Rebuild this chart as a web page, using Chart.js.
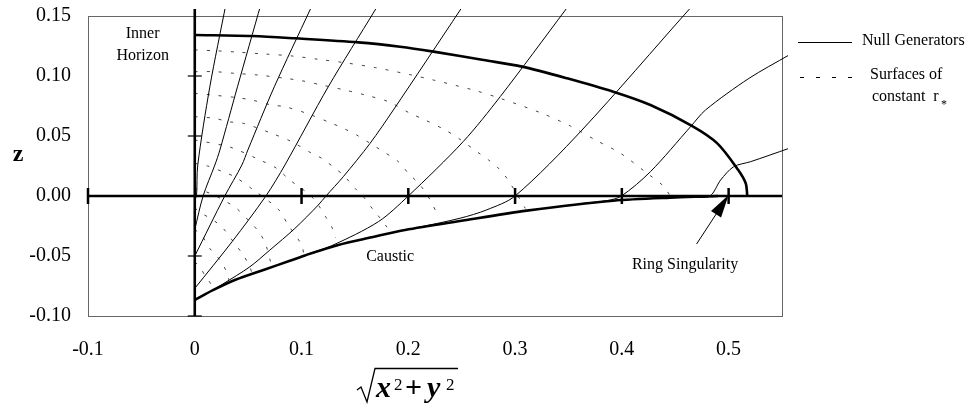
<!DOCTYPE html>
<html>
<head>
<meta charset="utf-8">
<script src="https://cdn.jsdelivr.net/npm/chart.js@4.4.1/dist/chart.umd.min.js"></script>
<style>
  html, body { margin: 0; padding: 0; background: #fff; }
</style>
</head>
<body>
<canvas id="myChart" width="969" height="404"></canvas>
<script>
// ticks on the two frame axes
const xTicks = [-0.1, 0, 0.1, 0.2, 0.3, 0.4, 0.5];
const xTickLabels = ['-0.1', '0', '0.1', '0.2', '0.3', '0.4', '0.5'];
const zTicks = [-0.1, -0.05, 0, 0.05, 0.1, 0.15];
const zTickLabels = ['-0.10', '-0.05', '0.00', '0.05', '0.10', '0.15'];

// tick marks on the axes through the origin
const xAxisMarks = [-0.1, 0.1, 0.2, 0.3, 0.4, 0.5];
const zAxisMarks = [-0.1, -0.05, 0.05, 0.1];

// thick curves, [x, z]
const innerHorizon = [[0, 0.1342], [0.0544, 0.1333], [0.0938, 0.1314], [0.1532, 0.128], [0.1923, 0.1244],
  [0.2236, 0.1203], [0.2705, 0.1133], [0.3065, 0.1078], [0.3487, 0.0981], [0.392, 0.0869],
  [0.4268, 0.0758], [0.466, 0.0583], [0.4894, 0.0439], [0.509, 0.0217], [0.516, 0.0106], [0.5175, 0]];
const caustic = [[0, -0.0867], [0.017, -0.0785], [0.0375, -0.07], [0.0657, -0.0612], [0.0891, -0.054],
  [0.1032, -0.0495], [0.1344, -0.0408], [0.1658, -0.0344], [0.197, -0.0283], [0.2486, -0.0208],
  [0.311, -0.0122], [0.392, -0.0039], [0.45, -0.0012], [0.49, 0]];

// null generators, [x, z]
const genA = [[0, -0.003], [0.0016, 0], [0.0028, 0.0258], [0.0141, 0.091], [0.0292, 0.16]];
const genB = [[0, -0.028], [0.0078, 0], [0.0188, 0.0258], [0.0235, 0.0383], [0.04, 0.091], [0.062, 0.16]];
const genC = [[0, -0.05], [0.0281, 0], [0.0441, 0.0258], [0.0497, 0.0383], [0.0745, 0.091], [0.1079, 0.155], [0.1105, 0.16]];
const genD = [[0, -0.077], [0.035, -0.038], [0.0666, 0], [0.0844, 0.0258], [0.125, 0.091], [0.1689, 0.155], [0.172, 0.16]];
const genE = [[0.01, -0.0822], [0.026, -0.0735], [0.0516, -0.059], [0.0704, -0.045], [0.0938, -0.027],
  [0.1157, -0.0075], [0.1229, 0], [0.1391, 0.0161], [0.1642, 0.0439], [0.186, 0.0717], [0.2486, 0.155], [0.252, 0.16]];
const genF = [[0.105, -0.0485], [0.128, -0.0415], [0.172, -0.0214], [0.2, 0], [0.2514, 0.0453],
  [0.2861, 0.0828], [0.3471, 0.155], [0.351, 0.16]];
const genG = [[0.205, -0.027], [0.2486, -0.0185], [0.2736, -0.0115], [0.3, 0], [0.3627, 0.055], [0.4625, 0.155], [0.468, 0.16]];
const genH = [[0.36, -0.0065], [0.386, -0.0039], [0.3996, 0], [0.4268, 0.0203], [0.4644, 0.0578],
  [0.4784, 0.0717], [0.519, 0.098], [0.5566, 0.1175]];
const genI = [[0.465, -0.001], [0.4825, 0], [0.4925, 0.0133], [0.5047, 0.0244], [0.5206, 0.0286], [0.5566, 0.0397]];

// surfaces of constant r*, [x, z]
const rStar1 = [[0, 0.1217], [0.02, 0.121], [0.038, 0.12], [0.066, 0.1183], [0.091, 0.1167], [0.116, 0.1139],
  [0.141, 0.111], [0.169, 0.107], [0.2033, 0.1008], [0.2233, 0.0967], [0.261, 0.0883], [0.286, 0.0814],
  [0.3252, 0.0689], [0.3518, 0.0583], [0.3752, 0.0467], [0.3987, 0.0356], [0.4237, 0.0189], [0.438, 0.009], [0.447, -0.002]];
const rStar2 = [[0, 0.1036], [0.0188, 0.1036], [0.0375, 0.1022], [0.0594, 0.1008], [0.0844, 0.0981], [0.1, 0.0961],
  [0.1188, 0.0925], [0.1407, 0.0883], [0.1595, 0.0842], [0.1814, 0.0786], [0.2017, 0.0689], [0.2158, 0.0633],
  [0.2345, 0.055], [0.247, 0.0481], [0.2643, 0.0369], [0.2752, 0.03], [0.283, 0.0244], [0.2924, 0.0147], [0.3096, -0.0103]];
const rStar3 = [[0, 0.0856], [0.0156, 0.0842], [0.0375, 0.0822], [0.0532, 0.08], [0.072, 0.0758], [0.0844, 0.0744],
  [0.1048, 0.0689], [0.1282, 0.0606], [0.1391, 0.0564], [0.1517, 0.0508], [0.1642, 0.0439], [0.1767, 0.0369],
  [0.1907, 0.0286], [0.2001, 0.0189], [0.211, 0.0092], [0.2205, -0.0033], [0.2267, -0.0144]];
const rStar4 = [[0, 0.0661], [0.0188, 0.0647], [0.0313, 0.0619], [0.0453, 0.0606], [0.072, 0.0522], [0.0907, 0.0453],
  [0.1095, 0.0356], [0.1189, 0.0314], [0.1313, 0.0231], [0.1391, 0.0175], [0.1501, 0.0064], [0.1579, -0.0006],
  [0.1673, -0.0117], [0.1751, -0.02], [0.18, -0.026]];
const rStar5 = [[0, 0.0467], [0.025, 0.0425], [0.0356, 0.04], [0.061, 0.03], [0.0766, 0.0231], [0.0891, 0.0133],
  [0.1079, 0.0008], [0.1157, -0.0075], [0.1235, -0.0186], [0.1282, -0.0256], [0.132, -0.035]];
const rStar6 = [[0, 0.0272], [0.012, 0.025], [0.026, 0.0203], [0.0375, 0.016], [0.055, 0.005], [0.0781, -0.011],
  [0.0875, -0.0242], [0.1001, -0.0408], [0.102, -0.048]];
const rStar7 = [[0, 0.0064], [0.015, 0.002], [0.028, -0.004], [0.0391, -0.0103], [0.05, -0.02], [0.061, -0.031],
  [0.067, -0.042], [0.071, -0.055]];
const rStar8 = [[0, -0.01], [0.0063, -0.0144], [0.0172, -0.02], [0.0266, -0.027], [0.036, -0.038], [0.0453, -0.049],
  [0.0516, -0.059], [0.054, -0.066]];
const rStar9 = [[0, -0.028], [0.0063, -0.0325], [0.014, -0.0436], [0.0235, -0.0533], [0.0297, -0.063], [0.032, -0.07]];
const rStar10 = [[0, -0.055], [0.0047, -0.059], [0.0094, -0.066], [0.0157, -0.074], [0.018, -0.078]];

const generators = [genA, genB, genC, genD, genE, genF, genG, genH, genI];
const rStarCurves = [rStar1, rStar2, rStar3, rStar4, rStar5, rStar6, rStar7, rStar8, rStar9, rStar10];

// text placed on the plot (data coords)
const notes = [
  { text: 'Inner', x: -0.0488, z: 0.135 },
  { text: 'Horizon', x: -0.0488, z: 0.1167 },
  { text: 'Caustic', x: 0.183, z: -0.0508 },
  { text: 'Ring Singularity', x: 0.4592, z: -0.0575 }
];

const SERIF = '"Liberation Serif", "Times New Roman", serif';

function toPoints(pairs) {
  return pairs.map(([x, z]) => ({ x: x, y: z }));
}

function lineSet(pairs, width, extra) {
  return Object.assign({
    data: toPoints(pairs),
    showLine: true,
    borderColor: '#000',
    borderWidth: width,
    pointRadius: 0,
    fill: false,
    tension: 0.3
  }, extra || {});
}

const overlay = {
  id: 'overlay',
  beforeDatasetsDraw(chart) {
    const { ctx, chartArea: a } = chart;
    ctx.save();
    ctx.strokeStyle = '#666';
    ctx.lineWidth = 1;
    ctx.strokeRect(a.left + 0.5, a.top + 0.5, a.right - a.left, a.bottom - a.top);
    ctx.restore();
  },
  afterDraw(chart) {
    const { ctx, chartArea: a, scales } = chart;
    const px = v => scales.x.getPixelForValue(v);
    const py = v => scales.y.getPixelForValue(v);
    ctx.save();
    ctx.fillStyle = '#000';
    ctx.strokeStyle = '#000';

    // notes on the plot
    ctx.font = '16px ' + SERIF;
    ctx.textAlign = 'center';
    ctx.textBaseline = 'middle';
    notes.forEach(n => ctx.fillText(n.text, px(n.x), py(n.z)));

    // arrow to the ring singularity
    const tipX = px(0.5), tipY = py(0) - 1;
    const tailX = px(0.47), tailY = py(-0.04);
    const ang = Math.atan2(tipY - tailY, tipX - tailX);
    ctx.lineWidth = 1;
    ctx.beginPath();
    ctx.moveTo(tailX, tailY);
    ctx.lineTo(tipX - 18 * Math.cos(ang), tipY - 18 * Math.sin(ang));
    ctx.stroke();
    ctx.beginPath();
    ctx.moveTo(tipX, tipY);
    ctx.lineTo(tipX - 23 * Math.cos(ang) + 6 * Math.sin(ang), tipY - 23 * Math.sin(ang) - 6 * Math.cos(ang));
    ctx.lineTo(tipX - 23 * Math.cos(ang) - 6 * Math.sin(ang), tipY - 23 * Math.sin(ang) + 6 * Math.cos(ang));
    ctx.closePath();
    ctx.fill();

    // legend at right
    const lx = a.right;
    ctx.textAlign = 'left';
    ctx.beginPath();
    ctx.moveTo(lx + 16, 42.5);
    ctx.lineTo(lx + 70, 42.5);
    ctx.stroke();
    ctx.fillText('Null Generators', lx + 80, 41);
    ctx.setLineDash([4, 12]);
    ctx.beginPath();
    ctx.moveTo(lx + 18, 77.5);
    ctx.lineTo(lx + 70, 77.5);
    ctx.stroke();
    ctx.setLineDash([]);
    ctx.fillText('Surfaces of', lx + 88, 75);
    ctx.fillText('constant  r', lx + 90, 97);
    ctx.font = '12px ' + SERIF;
    ctx.fillText('*', lx + 159, 105);

    // z axis title
    ctx.font = 'bold 24px ' + SERIF;
    ctx.textAlign = 'center';
    ctx.fillText('z', 18, 155);

    // sqrt(x^2 + y^2) axis title
    ctx.lineWidth = 1.3;
    ctx.beginPath();
    ctx.moveTo(357, 390);
    ctx.lineTo(361, 387);
    ctx.lineTo(367, 402);
    ctx.lineTo(375, 368.5);
    ctx.lineTo(458, 368.5);
    ctx.stroke();
    ctx.textAlign = 'left';
    ctx.textBaseline = 'alphabetic';
    ctx.font = 'bold italic 30px ' + SERIF;
    ctx.fillText('x', 376, 397);
    ctx.fillText('y', 427, 397);
    ctx.font = 'bold 30px ' + SERIF;
    ctx.fillText('+', 405, 397);
    ctx.font = '17px ' + SERIF;
    ctx.fillText('2', 394, 390);
    ctx.fillText('2', 446, 390);
    ctx.restore();
  }
};

function initChart(target) {
  const edgeClip = { left: 0, top: 7, right: 6, bottom: 0 };
  const datasets = [];

  datasets.push(lineSet(innerHorizon, 2.6, { label: 'Inner Horizon' }));
  datasets.push(lineSet(caustic, 2.6, { label: 'Caustic' }));

  // tick marks on the axes through the origin
  datasets.push({
    label: 'x marks',
    data: xAxisMarks.map(v => ({ x: v, y: 0 })),
    showLine: false,
    pointStyle: 'line',
    pointRadius: 8,
    pointRotation: 90,
    borderColor: '#000',
    pointBorderWidth: 2.5,
    clip: false
  });
  datasets.push({
    label: 'z marks',
    data: zAxisMarks.map(v => ({ x: 0, y: v })),
    showLine: false,
    pointStyle: 'line',
    pointRadius: 7,
    borderColor: '#000',
    pointBorderWidth: 1.2,
    clip: false
  });

  // axes through the origin
  datasets.push(lineSet([[-0.1, 0], [0.55, 0]], 2.6, { label: 'z = 0', tension: 0 }));
  datasets.push(lineSet([[0, -0.1], [0, 0.1567]], 2.6, { label: 'x = 0', tension: 0, clip: edgeClip }));

  generators.forEach((g, i) => {
    datasets.push(lineSet(g, 1, { label: 'Null Generators ' + (i + 1), clip: edgeClip }));
  });
  rStarCurves.forEach((r, i) => {
    datasets.push(lineSet(r, 1, { label: 'Surfaces of constant r* ' + (i + 1), borderColor: '#444', borderDash: [3, 9] }));
  });

  const tickFont = { family: SERIF, size: 20 };

  return new Chart(target, {
    type: 'scatter',
    data: { datasets: datasets },
    options: {
      responsive: false,
      animation: false,
      layout: { padding: { top: 16, right: 187, left: 0, bottom: 0 } },
      plugins: { legend: { display: false }, tooltip: { enabled: false } },
      scales: {
        x: {
          type: 'linear',
          min: -0.1,
          max: 0.55,
          grid: { display: false, drawTicks: false },
          border: { display: false },
          afterBuildTicks: s => { s.ticks = xTicks.map(v => ({ value: v })); },
          afterFit: s => { s.height = 88; s.paddingLeft = 0; s.paddingRight = 0; },
          ticks: {
            color: '#000',
            font: tickFont,
            padding: 22,
            maxRotation: 0,
            callback: (v, i) => xTickLabels[i]
          }
        },
        y: {
          type: 'linear',
          min: -0.1,
          max: 0.15,
          grid: { display: false, drawTicks: false },
          border: { display: false },
          afterBuildTicks: s => { s.ticks = zTicks.map(v => ({ value: v })); },
          afterFit: s => { s.width = 88; s.paddingTop = 0; s.paddingBottom = 0; },
          ticks: {
            color: '#000',
            font: tickFont,
            padding: 17,
            callback: (v, i) => zTickLabels[i]
          }
        }
      }
    },
    plugins: [overlay]
  });
}

function mainEvent() {
  const chartTarget = document.querySelector('#myChart');
  initChart(chartTarget);
}

document.addEventListener('DOMContentLoaded', () => mainEvent());
</script>
</body>
</html>
